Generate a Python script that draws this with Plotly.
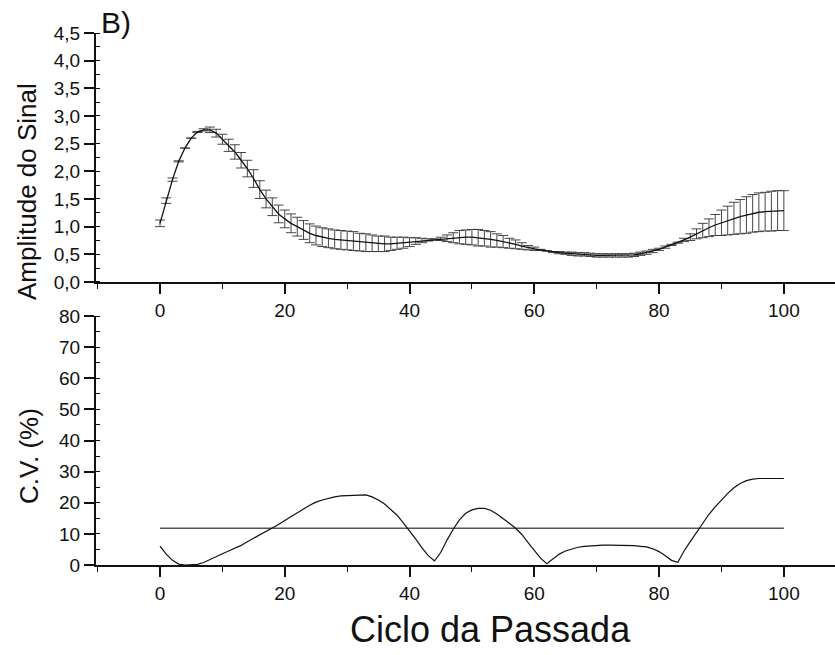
import plotly.graph_objects as go

# ---------------- data ----------------
ciclo = list(range(0, 101))

amplitude_media = [
    1.06, 1.47, 1.85, 2.18, 2.42, 2.60, 2.71, 2.75, 2.75, 2.69,
    2.58, 2.47, 2.35, 2.20, 2.05, 1.87, 1.67, 1.50, 1.36, 1.23,
    1.14, 1.06, 1.00, 0.94, 0.88, 0.84, 0.81, 0.79, 0.77, 0.76,
    0.75, 0.74, 0.72, 0.71, 0.70, 0.69, 0.69, 0.69, 0.70, 0.71,
    0.72, 0.74, 0.75, 0.76, 0.77, 0.78, 0.79, 0.80, 0.81, 0.81,
    0.81, 0.80, 0.79, 0.77, 0.75, 0.73, 0.70, 0.68, 0.65, 0.62,
    0.60, 0.58, 0.56, 0.54, 0.53, 0.52, 0.51, 0.50, 0.50, 0.49,
    0.48, 0.48, 0.48, 0.48, 0.48, 0.48, 0.49, 0.51, 0.53, 0.56,
    0.59, 0.63, 0.67, 0.71, 0.76, 0.81, 0.87, 0.93, 0.98, 1.03,
    1.07, 1.11, 1.15, 1.18, 1.21, 1.24, 1.26, 1.27, 1.28, 1.29,
    1.29,
]

amplitude_dp = [
    0.06, 0.05, 0.03, 0.01, 0.00, 0.00, 0.01, 0.02, 0.05, 0.07,
    0.09, 0.11, 0.13, 0.14, 0.15, 0.16, 0.16, 0.16, 0.16, 0.16,
    0.16, 0.17, 0.17, 0.17, 0.17, 0.17, 0.17, 0.17, 0.17, 0.17,
    0.17, 0.17, 0.16, 0.16, 0.15, 0.14, 0.14, 0.12, 0.11, 0.10,
    0.08, 0.06, 0.04, 0.02, 0.01, 0.03, 0.06, 0.09, 0.12, 0.13,
    0.14, 0.15, 0.14, 0.14, 0.12, 0.11, 0.09, 0.08, 0.06, 0.04,
    0.03, 0.01, 0.00, 0.01, 0.02, 0.02, 0.03, 0.03, 0.03, 0.03,
    0.03, 0.03, 0.03, 0.03, 0.03, 0.03, 0.03, 0.03, 0.03, 0.03,
    0.02, 0.02, 0.01, 0.01, 0.03, 0.06, 0.09, 0.13, 0.16, 0.19,
    0.23, 0.26, 0.29, 0.31, 0.33, 0.34, 0.35, 0.35, 0.36, 0.36,
    0.36,
]

cv_percent = [
    6.1, 3.5, 1.5, 0.3, 0.0, 0.0, 0.2, 0.8, 1.8, 2.7,
    3.6, 4.5, 5.4, 6.3, 7.5, 8.6, 9.6, 10.7, 11.8, 13.0,
    14.3, 15.6, 16.8, 18.0, 19.2, 20.2, 20.9, 21.5, 21.9, 22.2,
    22.3, 22.5, 22.6, 22.5, 21.9, 20.9, 19.6, 17.8, 16.0, 13.5,
    11.0, 8.3, 5.5, 3.0, 1.3, 4.0, 8.0, 11.5, 14.5, 16.6,
    17.7, 18.2, 18.2, 17.6, 16.4, 15.0, 13.4, 11.8, 9.8, 7.2,
    4.6, 2.2, 0.4, 2.0, 3.5, 4.5, 5.2, 5.7, 6.0, 6.2,
    6.3, 6.4, 6.4, 6.4, 6.4, 6.3, 6.2, 6.0, 5.8, 5.2,
    4.3, 3.0, 1.5, 0.9, 4.5, 7.5, 10.5, 13.5, 16.3, 18.7,
    21.0, 23.0, 24.8, 26.2, 27.1, 27.6, 27.8, 27.8, 27.8, 27.8,
    27.8,
]

cv_limite = [11.8, 11.8]
cv_limite_x = [ciclo[0], ciclo[-1]]

x_ticks = [0, 20, 40, 60, 80, 100]

# ---------------- figure ----------------
FONT = "Liberation Sans, Arial, sans-serif"
INK = "#111111"

fig = go.Figure()

fig.add_trace(go.Scatter(
    x=ciclo, y=amplitude_media, mode="lines",
    line=dict(color=INK, width=1.3),
    error_y=dict(type="data", array=amplitude_dp, visible=True,
                 color="#333333", thickness=0.9, width=5),
    xaxis="x", yaxis="y", showlegend=False,
))

fig.add_trace(go.Scatter(
    x=cv_limite_x, y=cv_limite, mode="lines",
    line=dict(color="#555555", width=1.3),
    xaxis="x2", yaxis="y2", showlegend=False,
))

fig.add_trace(go.Scatter(
    x=ciclo, y=cv_percent, mode="lines",
    line=dict(color=INK, width=1.2),
    xaxis="x2", yaxis="y2", showlegend=False,
))

xcommon = dict(
    range=[-10.26, 108.2], tickvals=x_ticks, showline=True, linecolor=INK,
    linewidth=2, ticks="outside", ticklen=10, tickwidth=1.5, tickcolor=INK,
    minor=dict(dtick=10, tick0=0, ticks="outside", ticklen=5, tickwidth=1.2,
               tickcolor=INK),
    showgrid=False, zeroline=False, tickfont=dict(size=19, color=INK),
)

fig.update_layout(
    width=835, height=655,
    margin=dict(l=96, r=0, t=33, b=90),
    paper_bgcolor="white", plot_bgcolor="white",
    font=dict(family=FONT, color=INK),
    separators=",.",
    xaxis=dict(domain=[0, 1], anchor="y", **xcommon),
    yaxis=dict(domain=[0.532, 1], anchor="x", range=[0, 4.5], dtick=0.5,
               tick0=0, tickformat=".1f", showline=True, linecolor=INK,
               linewidth=2, ticks="outside", ticklen=10, tickwidth=1.5,
               tickcolor=INK,
               minor=dict(dtick=0.25, tick0=0, ticks="inside", ticklen=4,
                          tickwidth=1.2, tickcolor=INK),
               showgrid=False, zeroline=False,
               tickfont=dict(size=19, color=INK)),
    xaxis2=dict(domain=[0, 1], anchor="y2", **xcommon),
    yaxis2=dict(domain=[0, 0.468], anchor="x2", range=[0, 80], dtick=10,
                tick0=0, showline=True, linecolor=INK, linewidth=2,
                ticks="outside", ticklen=10, tickwidth=1.5, tickcolor=INK,
                minor=dict(dtick=5, tick0=0, ticks="inside", ticklen=4,
                           tickwidth=1.2, tickcolor=INK),
                showgrid=False, zeroline=False,
                tickfont=dict(size=19, color=INK)),
    annotations=[
        dict(text="Amplitude do Sinal", textangle=-90, xref="paper",
             yref="paper", x=(27 - 96) / 739, y=(565 - 192) / 532,
             xanchor="center", yanchor="middle", showarrow=False,
             font=dict(size=26, color=INK, family=FONT)),
        dict(text="C.V. (%)", textangle=-90, xref="paper", yref="paper",
             x=(29 - 96) / 739, y=(565 - 456) / 532,
             xanchor="center", yanchor="middle", showarrow=False,
             font=dict(size=26, color=INK, family=FONT)),
        dict(text="Ciclo da Passada", xref="paper", yref="paper",
             x=(490 - 96) / 739, y=(565 - 629) / 532,
             xanchor="center", yanchor="middle", showarrow=False,
             font=dict(size=36, color=INK, family=FONT)),
        dict(text="B)", xref="paper", yref="paper",
             x=(116 - 96) / 739, y=(565 - 23) / 532,
             xanchor="center", yanchor="middle", showarrow=False,
             font=dict(size=30, color=INK, family=FONT)),
    ],
)

fig.write_html("out.html")
